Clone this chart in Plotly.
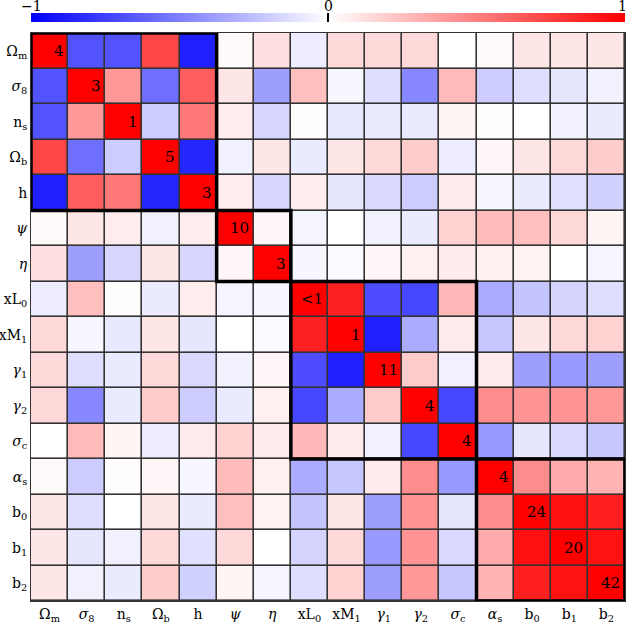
import plotly.graph_objects as go

## parameter names (tick labels)
params = ['Ω<sub>m</sub>', '<i>σ</i><sub>8</sub>', 'n<sub>s</sub>', 'Ω<sub>b</sub>', 'h',
          '<i>ψ</i>', '<i>η</i>', 'xL<sub>0</sub>', 'xM<sub>1</sub>', '<i>γ</i><sub>1</sub>',
          '<i>γ</i><sub>2</sub>', '<i>σ</i><sub>c</sub>', '<i>α</i><sub>s</sub>',
          'b<sub>0</sub>', 'b<sub>1</sub>', 'b<sub>2</sub>']

## correlation matrix, lower triangle (row i holds columns 0..i)
corr_lower = [
    [1.0],
    [-0.68, 1.0],
    [-0.68, 0.40, 1.0],
    [0.72, -0.57, -0.20, 1.0],
    [-0.88, 0.63, 0.53, -0.85, 1.0],
    [0.02, 0.10, 0.07, -0.05, 0.07, 1.0],
    [0.12, -0.38, -0.16, 0.10, -0.16, 0.03, 1.0],
    [-0.07, 0.25, 0.01, -0.08, 0.07, -0.04, -0.03, 1.0],
    [0.15, -0.03, -0.09, 0.10, -0.10, 0.00, -0.02, 0.87, 1.0],
    [0.15, -0.13, -0.08, 0.15, -0.15, -0.05, 0.03, -0.70, -0.88, 1.0],
    [0.15, -0.47, -0.08, 0.20, -0.20, -0.08, 0.06, -0.72, -0.33, 0.20, 1.0],
    [0.00, 0.27, 0.04, -0.07, 0.08, 0.18, 0.08, 0.28, 0.08, -0.06, -0.72, 1.0],
    [0.02, -0.20, 0.01, 0.03, -0.03, 0.27, 0.06, -0.33, -0.22, 0.08, 0.45, -0.40, 1.0],
    [0.10, -0.13, 0.00, 0.10, -0.08, 0.25, 0.05, -0.23, 0.10, -0.38, 0.42, -0.10, 0.45, 1.0],
    [0.10, -0.10, -0.05, 0.15, -0.12, 0.15, 0.00, -0.17, 0.15, -0.40, 0.42, -0.15, 0.33, 0.94, 1.0],
    [0.10, -0.05, -0.08, 0.20, -0.18, 0.04, -0.04, -0.13, 0.18, -0.38, 0.40, -0.22, 0.30, 0.88, 0.93, 1.0],
]

## numbers printed on the diagonal
diag_text = ['4', '3', '1', '5', '3', '10', '3', '<1', '1', '11', '4', '4', '4', '24', '20', '42']

## parameter blocks outlined in black (first, last index)
blocks = [(0, 4), (5, 6), (7, 11), (12, 15)]

n = len(params)
z = [[corr_lower[i][j] if j <= i else corr_lower[j][i] for j in range(n)] for i in range(n)]
idx = list(range(n))

font_family = 'DejaVu Serif'

fig = go.Figure(go.Heatmap(
    z=z, x=idx, y=idx,
    zmin=-1, zmax=1,
    colorscale=[[0, 'rgb(0,0,255)'], [0.5, 'rgb(255,255,255)'], [1, 'rgb(255,0,0)']],
    xgap=1.6, ygap=1.6,
    hoverinfo='skip',
    colorbar=dict(
        orientation='h', x=0.5, xanchor='center', len=1.0, lenmode='fraction',
        y=1.0352, yanchor='top', thickness=9, xpad=0, ypad=0,
        outlinewidth=0, tickvals=[-1, 0, 1], ticks='inside', ticklen=9,
        tickwidth=2, tickcolor='black', showticklabels=False,
    ),
))

## colorbar labels above the bar
for val, xp in [('−1', 0.0), ('0', 0.5), ('1', 0.995)]:
    fig.add_annotation(text=val, x=xp, y=1.047, xref='paper', yref='paper',
                       showarrow=False, xanchor='center', yanchor='middle',
                       font=dict(family=font_family, size=14, color='black'))

## diagonal numbers
for i, t in enumerate(diag_text):
    fig.add_annotation(text=t, x=i + 0.43, y=i, xref='x', yref='y',
                       showarrow=False, xanchor='right', yanchor='middle',
                       font=dict(family=font_family, size=15, color='black'))

## thick block outlines
for a, b in blocks:
    fig.add_shape(type='rect', x0=a - 0.5, x1=b + 0.5, y0=a - 0.5, y1=b + 0.5,
                  xref='x', yref='y', line=dict(color='black', width=3.5))

fig.update_xaxes(
    tickvals=idx, ticktext=params, ticks='', showgrid=False, zeroline=False,
    range=[-0.5, n - 0.5], showline=True, mirror=True, linecolor='#333', linewidth=1,
    tickfont=dict(family=font_family, size=14, color='black'),
)
fig.update_yaxes(
    tickvals=idx, ticktext=params, ticks='', showgrid=False, zeroline=False,
    range=[n - 0.5, -0.5], showline=True, mirror=True, linecolor='#333', linewidth=1,
    tickfont=dict(family=font_family, size=14, color='black'),
)

fig.update_layout(
    width=628, height=627,
    margin=dict(l=31, r=3, t=33, b=26, autoexpand=False),
    plot_bgcolor='#333333', paper_bgcolor='white',
    showlegend=False,
)

fig.write_html("out.html", config={'displayModeBar': False},
               post_script="document.body.style.margin='0';")
